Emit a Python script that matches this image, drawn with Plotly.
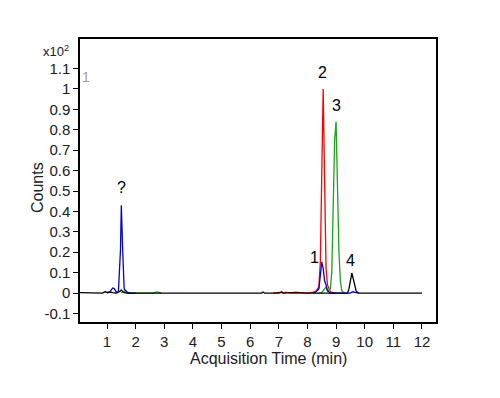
import plotly.graph_objects as go

# Black trace (baseline + peak 4)
black_t = [0.06, 0.5, 0.85, 0.9, 0.95, 1.0, 1.1, 1.2, 1.3, 1.45, 1.5, 1.55, 1.6, 1.7, 2.0, 2.7, 2.75, 2.8,
           3.5, 5.0, 6.4, 6.45, 6.5, 7.0, 7.1, 7.15, 7.6, 8.0, 8.4, 9.4, 9.45, 9.5, 9.55, 9.6, 9.65,
           9.7, 9.75, 9.8, 10.0, 12.0]
black_v = [0.002, 0.0, 0.0, 0.004, 0.006, 0.003, 0.005, 0.002, 0.0, 0.008, 0.015, 0.006, 0.002, 0.0, 0.0,
           0.0, 0.003, 0.0, 0.0, 0.0, 0.0, 0.005, 0.0, 0.0, 0.006, 0.0, 0.003, 0.0, 0.0, 0.0, 0.02, 0.06,
           0.098, 0.07, 0.03, 0.01, 0.003, 0.0, 0.0, 0.0]

# Blue trace ("?" peak and peak 1)
blue_t = [1.0, 1.1, 1.15, 1.2, 1.25, 1.3, 1.35, 1.4, 1.45, 1.47, 1.5, 1.53, 1.55, 1.6, 1.65, 1.7, 1.8, 2.0,
          None, 8.2, 8.3, 8.4, 8.45, 8.5, 8.55, 8.6, 8.65, 8.7, 8.75, 8.8, 8.9, 9.5, 9.55, 9.6, 9.65, 9.8]
blue_v = [0.0, 0.005, 0.015, 0.025, 0.022, 0.01, 0.0, 0.01, 0.2, 0.21, 0.43, 0.21, 0.2, 0.02, 0.01, 0.005, 0.0, 0.0,
          None, 0.0, 0.005, 0.02, 0.08, 0.153, 0.12, 0.06, 0.04, 0.012, 0.005, 0.0, 0.0, 0.0, 0.004, 0.006, 0.003, 0.0]

# Red trace (peak 2)
red_t = [6.8, 7.0, 7.2, 7.25, 7.4, 8.0, 8.2, 8.3, 8.35, 8.4, 8.45, 8.5, 8.55, 8.6, 8.65, 8.7, 8.75, 8.8, 8.9, 9.0]
red_v = [0.0, 0.003, 0.0, 0.004, 0.0, 0.0, 0.004, 0.01, 0.02, 0.03, 0.15, 0.6, 1.0, 0.55, 0.12, 0.04,
         0.02, 0.005, 0.002, 0.0]

# Green trace (peak 3)
green_t = [1.5, 1.6, 1.7, 2.6, 2.7, 2.8, 2.9, None, 8.4, 8.5, 8.6, 8.65, 8.7, 8.8, 8.85, 8.9, 8.95,
           9.0, 9.05, 9.1, 9.15, 9.2, 9.3]
green_v = [0.0, 0.01, 0.0, 0.0, 0.004, 0.004, 0.0, None, 0.0, 0.002, 0.02, 0.03, 0.01, 0.02, 0.1, 0.4,
           0.75, 0.84, 0.5, 0.2, 0.06, 0.01, 0.0]

y_tickvals = [-0.1, 0, 0.1, 0.2, 0.3, 0.4, 0.5, 0.6, 0.7, 0.8, 0.9, 1.0, 1.1]
y_ticktext = ["-0.1", "0", "0.1", "0.2", "0.3", "0.4", "0.5", "0.6", "0.7", "0.8", "0.9", "1", "1.1"]
x_tickvals = [1, 2, 3, 4, 5, 6, 7, 8, 9, 10, 11, 12]

peak_labels = ["?", "2", "3", "1", "4"]
peak_x = [1.49, 8.54, 9.02, 8.23, 9.52]
peak_y = [0.515, 1.083, 0.917, 0.176, 0.157]

fig = go.Figure()
line_w = 1.3
fig.add_trace(go.Scatter(x=red_t, y=red_v, mode="lines", line=dict(color="#ff0000", width=line_w)))
fig.add_trace(go.Scatter(x=green_t, y=green_v, mode="lines", line=dict(color="#1aa51a", width=line_w)))
fig.add_trace(go.Scatter(x=blue_t, y=blue_v, mode="lines", line=dict(color="#0000e0", width=line_w)))
fig.add_trace(go.Scatter(x=black_t, y=black_v, mode="lines", line=dict(color="#000000", width=line_w)))

font_family = "Liberation Sans, Arial, sans-serif"
PW, PH = 356.0, 283.0
for lab, xx, yy in zip(peak_labels, peak_x, peak_y):
    fig.add_annotation(x=xx, y=yy, xref="x", yref="y", text=lab, showarrow=False,
                       font=dict(size=16, color="#000000", family=font_family))

fig.add_annotation(x=0.0, y=(322 - 77) / PH, xref="paper", yref="paper", text="1", showarrow=False,
                   xanchor="left", yanchor="middle", font=dict(size=14, color="#a0a0a0", family=font_family))
fig.add_annotation(x=(56 - 80) / PW, y=(322 - 51) / PH, xref="paper", yref="paper",
                   text="x10<sup>2</sup>", showarrow=False, xanchor="center", yanchor="middle",
                   font=dict(size=13, color="#202020", family=font_family))
fig.add_annotation(x=(37 - 80) / PW, y=(322 - 188) / PH, xref="paper", yref="paper", text="Counts",
                   showarrow=False, textangle=-90, xanchor="center", yanchor="middle",
                   font=dict(size=16, color="#202020", family=font_family))
fig.add_annotation(x=(268 - 80) / PW, y=(322 - 358) / PH, xref="paper", yref="paper",
                   text="Acquisition Time (min)", showarrow=False, xanchor="center", yanchor="middle",
                   font=dict(size=16, color="#202020", family=font_family))

fig.update_layout(
    width=500, height=398,
    margin=dict(l=80, r=64, t=39, b=76),
    paper_bgcolor="white", plot_bgcolor="white",
    showlegend=False,
    font=dict(family=font_family, size=15, color="#202020"),
)
fig.update_xaxes(range=[0.057, 12.49], tickvals=x_tickvals, ticks="outside", ticklen=5,
                 showline=True, linecolor="black", linewidth=1.5, mirror=True,
                 showgrid=False, zeroline=False, tickcolor="black",
                 tickfont=dict(size=15))
fig.update_yaxes(range=[-0.142, 1.245], tickvals=y_tickvals, ticktext=y_ticktext,
                 ticks="outside", ticklen=5,
                 showline=True, linecolor="black", linewidth=1.5, mirror=True,
                 showgrid=False, zeroline=False, tickcolor="black",
                 tickfont=dict(size=15))

fig.write_html("out.html")
